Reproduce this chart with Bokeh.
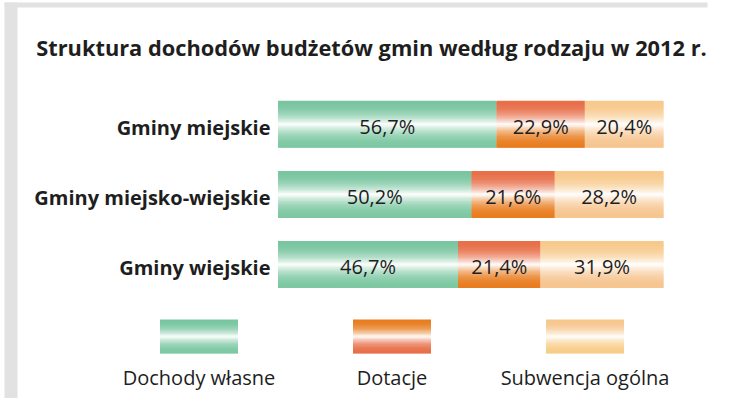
from bokeh.plotting import figure
from bokeh.models import Range1d, ColumnDataSource
from bokeh.core.properties import value
from bokeh.embed import file_html
from bokeh.resources import INLINE

# ---- data ----
categories = ["Gminy miejskie", "Gminy miejsko-wiejskie", "Gminy wiejskie"]
series = ["Dochody własne", "Dotacje", "Subwencja ogólna"]
dochody_wlasne = [56.7, 50.2, 46.7]
dotacje = [22.9, 21.6, 21.4]
subwencja_ogolna = [20.4, 28.2, 31.9]
title_text = "Struktura dochodów budżetów gmin według rodzaju w 2012 r."

values = [dochody_wlasne, dotacje, subwencja_ogolna]
# gradient end colours (top, bottom) for bars and for legend swatches
bar_grad = [("#79c5a0", "#7dc8a3"), ("#e76f49", "#e87d20"), ("#f7c98b", "#f6c590")]
leg_grad = [("#79c5a0", "#7dc8a3"), ("#e87d20", "#e76f49"), ("#f7c78e", "#f8cd8a")]

FONT = "Open Sans"
W, H = 715, 398

# canvas pixel -> data helpers
PX0, PXS = 277.5, 3.855   # x: 0 % at px 277.5, 3.855 px per %
PY0, PYS = 123.8, 70.1    # y: first category centre, px per category


def X(px):
    return (px - PX0) / PXS


def Y(py):
    return (py - PY0) / PYS


def hex2rgb(h):
    h = h.lstrip("#")
    return [int(h[i:i + 2], 16) for i in (0, 2, 4)]


def mix(c, f):
    r = [round(v + (255 - v) * f) for v in hex2rgb(c)]
    return "#%02x%02x%02x" % tuple(r)


def grad_color(top, bottom, t):
    if t < 0.5:
        s = t / 0.5
        return mix(top, s ** 2.2)
    s = (1 - t) / 0.5
    return mix(bottom, s ** 2.2)


def gradient_rows(left, right, ycen, height, top_c, bot_c, n, out):
    step = height / n
    y_top = ycen - height / 2          # smaller y = higher on screen
    y_end = ycen + height / 2
    for k in range(n):
        t = (k + 0.5) / n
        a = y_top + k * step
        b = min(y_top + (k + 1.8) * step, y_end)
        out["left"].append(left)
        out["right"].append(right)
        out["top"].append(a)
        out["bottom"].append(b)
        out["color"].append(grad_color(top_c, bot_c, t))


p = figure(width=W, height=H, output_backend="svg", toolbar_location=None,
           x_range=Range1d(X(0), X(W)), y_range=Range1d(Y(H), Y(0)),
           x_axis_location=None, y_axis_location=None, min_border=0,
           outline_line_color=None, background_fill_color="white",
           border_fill_color="white")
p.grid.visible = False

# frame decoration (light band top/left)
p.quad(left=[X(4), X(4)], right=[X(17), X(707)], top=[Y(2), Y(2)],
       bottom=[Y(405), Y(7)], fill_color="#e2e2e2", line_color=None)

N = 36
BH = 47 / PYS
bars = dict(left=[], right=[], top=[], bottom=[], color=[])
lab_x, lab_y, lab_t = [], [], []
for i, cat in enumerate(categories):
    start = 0.0
    for j, vals in enumerate(values):
        v = vals[i]
        gradient_rows(start, start + v, i, BH, bar_grad[j][0], bar_grad[j][1], N, bars)
        lab_x.append(start + v / 2)
        lab_y.append(i + 0.03)
        lab_t.append(("%.1f" % v).replace(".", ",") + "%")
        start += v

p.quad(left="left", right="right", top="top", bottom="bottom",
       fill_color="color", line_color=None, source=ColumnDataSource(bars))

p.text(x=lab_x, y=lab_y, text=lab_t, text_align="center",
       text_baseline="middle", text_font=value(FONT),
       text_font_size="20px", text_color="#1e1e1e")

# category labels
p.text(x=[X(270)] * len(categories), y=[i + 0.04 for i in range(len(categories))],
       text=categories, text_align="right", text_baseline="middle",
       text_font=value(FONT), text_font_style="bold", text_font_size="20px",
       text_color="#1e1e1e")

# title
p.text(x=[X(371)], y=[Y(47)], text=[title_text], text_align="center",
       text_baseline="middle", text_font=value(FONT), text_font_style="bold",
       text_font_size="21.8px", text_color="#1e1e1e")

# legend swatches
LW = 78 / PXS
LH = 34 / PYS
leg = dict(left=[], right=[], top=[], bottom=[], color=[])
lcx = []
for j, name in enumerate(series):
    cx = X(198.5 + 193 * j)
    lcx.append(cx)
    gradient_rows(cx - LW / 2, cx + LW / 2, Y(336), LH,
                  leg_grad[j][0], leg_grad[j][1], 26, leg)
p.quad(left="left", right="right", top="top", bottom="bottom",
       fill_color="color", line_color=None, source=ColumnDataSource(leg))

p.text(x=lcx, y=[Y(377)] * len(series), text=series, text_align="center",
       text_baseline="middle", text_font=value(FONT), text_font_size="20px",
       text_color="#1e1e1e")

open("out.html", "w").write(file_html(p, INLINE))
